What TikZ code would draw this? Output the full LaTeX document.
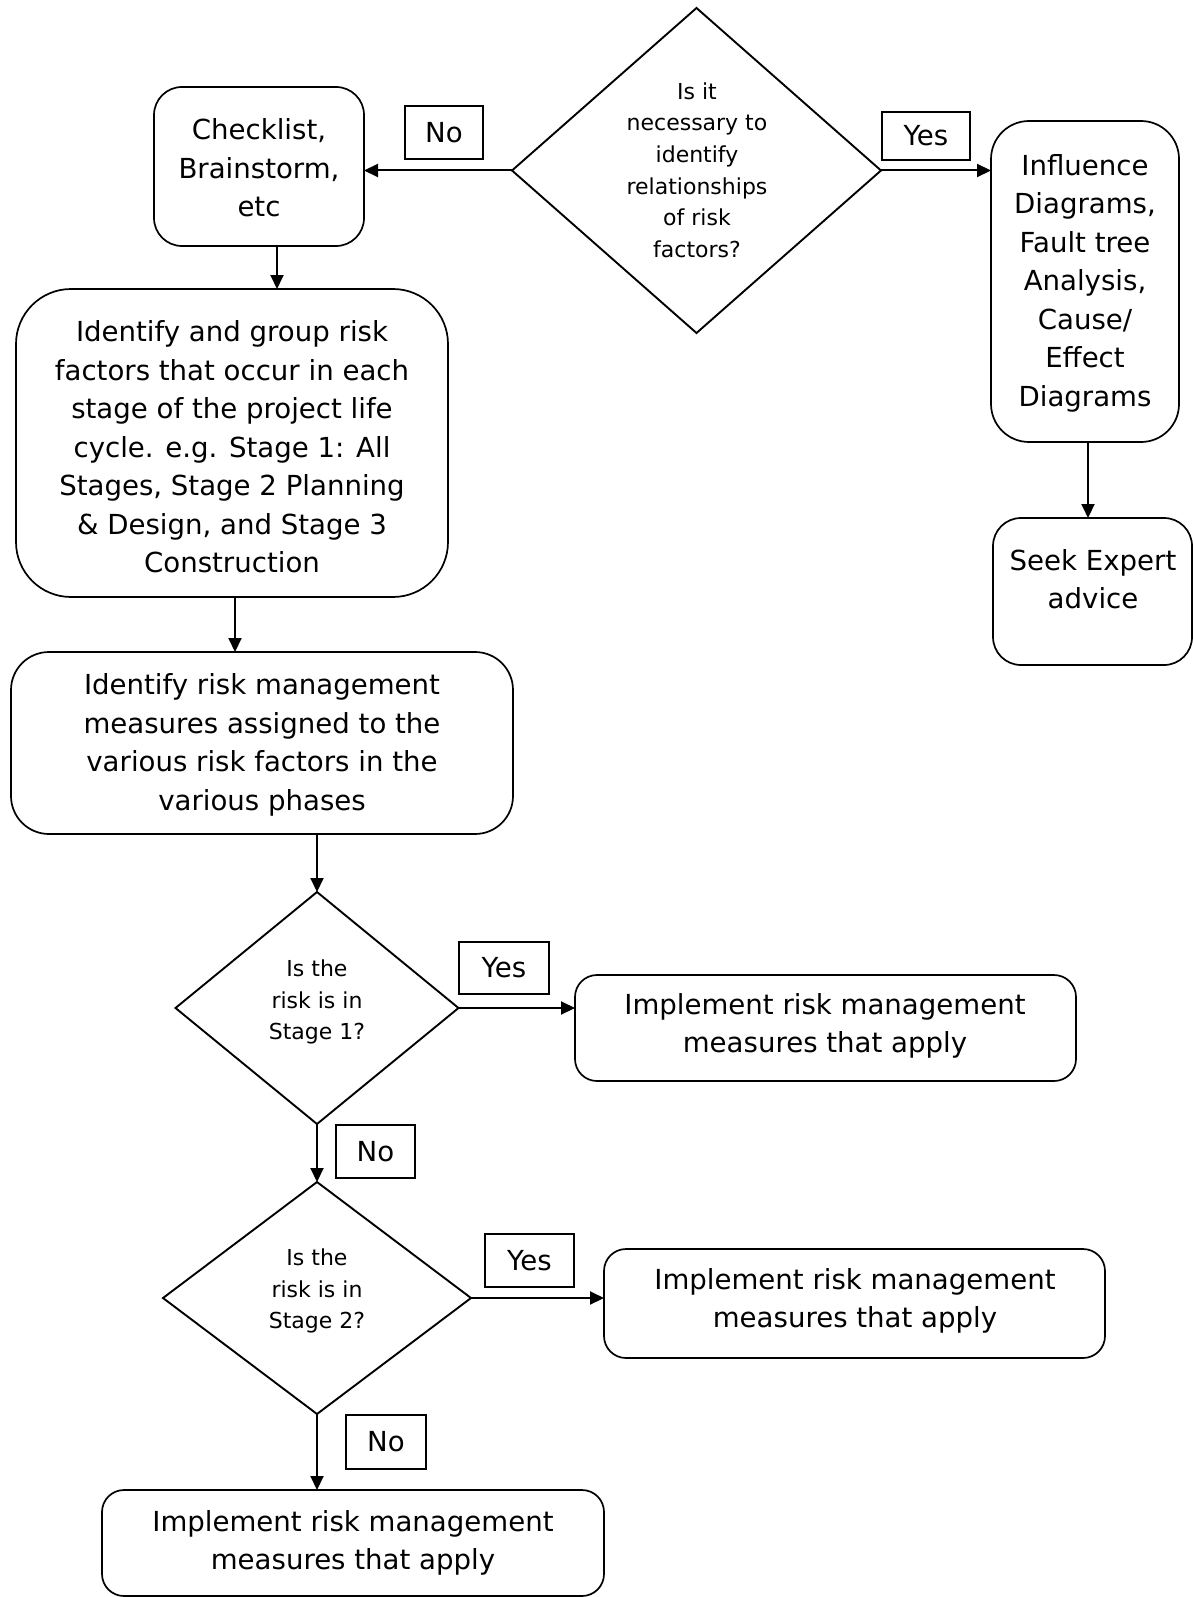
\documentclass[tikz,border=0pt]{standalone}
\usepackage{fontspec}
\setmainfont{DejaVu Sans}
\usetikzlibrary{arrows.meta,shapes.geometric}
\begin{document}
\begin{tikzpicture}[x=1pt,y=-1pt,
  box/.style={draw,line width=1.7pt,rounded corners=#1,inner sep=0pt,outer sep=0pt},
  box/.default=25pt,
  txt/.style={align=center,inner sep=0pt,font=\fontsize{27.6}{38.5}\selectfont},
  dtxt/.style={align=center,inner sep=0pt,font=\fontsize{22}{31.6}\selectfont},
  lbl/.style={draw,line width=1.5pt,inner sep=0pt,outer sep=0pt,font=\fontsize{27.6}{38.5}\selectfont},
  dia/.style={draw,diamond,line width=1.9pt,inner sep=0pt,outer sep=0pt},
  arr/.style={line width=2pt,-{Triangle[length=14pt,width=13pt]}}]
\useasboundingbox (0,0) rectangle (1193,1597);

% decision diamonds
\node[dia,minimum width=369pt,minimum height=325pt] (d1) at (696.5,170.5) {};
\node[dtxt] (d1t) at (697,170) {Is it\\necessary to\\identify\\relationships\\of risk\\factors?};
\node[dia,minimum width=283pt,minimum height=232pt] (d2) at (317,1008) {};
\node[dtxt] (d2t) at (317,1002) {Is the\\risk is in\\Stage 1?};
\node[dia,minimum width=308pt,minimum height=232pt] (d3) at (317,1298) {};
\node[dtxt] (d3t) at (317,1291) {Is the\\risk is in\\Stage 2?};

% boxes
\node[box=28pt,minimum width=210pt,minimum height=159pt] (chk) at (259,166.5) {};
\node[txt] (chkt) at (259,168) {Checklist,\\Brainstorm,\\etc};
\node[box=55pt,minimum width=432pt,minimum height=308pt] (grp) at (232,443) {};
\node[txt] (grpt) at (232,447) {Identify and group risk\\factors that occur in each\\stage of the project life\\cycle. e.g. Stage 1: All\\Stages, Stage 2 Planning\\\& Design, and Stage 3\\Construction};
\node[box=38pt,minimum width=502pt,minimum height=182pt] (mgm) at (262,743) {};
\node[txt] (mgmt) at (262,745) {Identify risk management\\measures assigned to the\\various risk factors in the\\various phases};
\node[box=38pt,minimum width=188pt,minimum height=321pt] (inf) at (1085,281.5) {};
\node[txt] (inft) at (1085,283) {Influence\\Diagrams,\\Fault tree\\Analysis,\\Cause/\\Effect\\Diagrams};
\node[box=28pt,minimum width=199pt,minimum height=147pt] (seek) at (1092.5,591.5) {};
\node[txt] (seekt) at (1093,579) {Seek Expert\\advice};
\node[box=22pt,minimum width=501pt,minimum height=106pt] (p1) at (825.5,1028) {};
\node[txt] (p1t) at (825,1026) {Implement risk management\\measures that apply};
\node[box=22pt,minimum width=501pt,minimum height=109pt] (p2) at (854.5,1303.5) {};
\node[txt] (p2t) at (855,1301) {Implement risk management\\measures that apply};
\node[box=22pt,minimum width=502pt,minimum height=106pt] (p3) at (353,1543) {};
\node[txt] (p3t) at (353,1543) {Implement risk management\\measures that apply};

% labels
\node[lbl,minimum width=78pt,minimum height=53pt] (no1) at (444,132.5) {No};
\node[lbl,minimum width=88pt,minimum height=48pt] (yes1) at (926,136) {Yes};
\node[lbl,minimum width=90pt,minimum height=52pt] (yes2) at (504,968) {Yes};
\node[lbl,minimum width=79pt,minimum height=53pt] (no2) at (375.5,1151.5) {No};
\node[lbl,minimum width=89pt,minimum height=53pt] (yes3) at (529.5,1260.5) {Yes};
\node[lbl,minimum width=80pt,minimum height=54pt] (no3) at (386,1442) {No};

% connectors
\coordinate (xa) at (277,0);
\coordinate (xb) at (235,0);
\coordinate (xc) at (1088,0);
\draw[arr] (d1.west) -- (d1.west -| chk.east);
\draw[arr] (d1.east) -- (d1.east -| inf.west);
\draw[arr] (xa |- chk.south) -- (xa |- grp.north);
\draw[arr] (xb |- grp.south) -- (xb |- mgm.north);
\draw[arr] (d2.north |- mgm.south) -- (d2.north);
\draw[arr] (d2.east) -- (d2.east -| p1.west);
\draw[arr] (d2.south) -- (d3.north);
\draw[arr] (d3.east) -- (d3.east -| p2.west);
\draw[arr] (d3.south) -- (d3.south |- p3.north);
\draw[arr] (xc |- inf.south) -- (xc |- seek.north);
\end{tikzpicture}
\end{document}
